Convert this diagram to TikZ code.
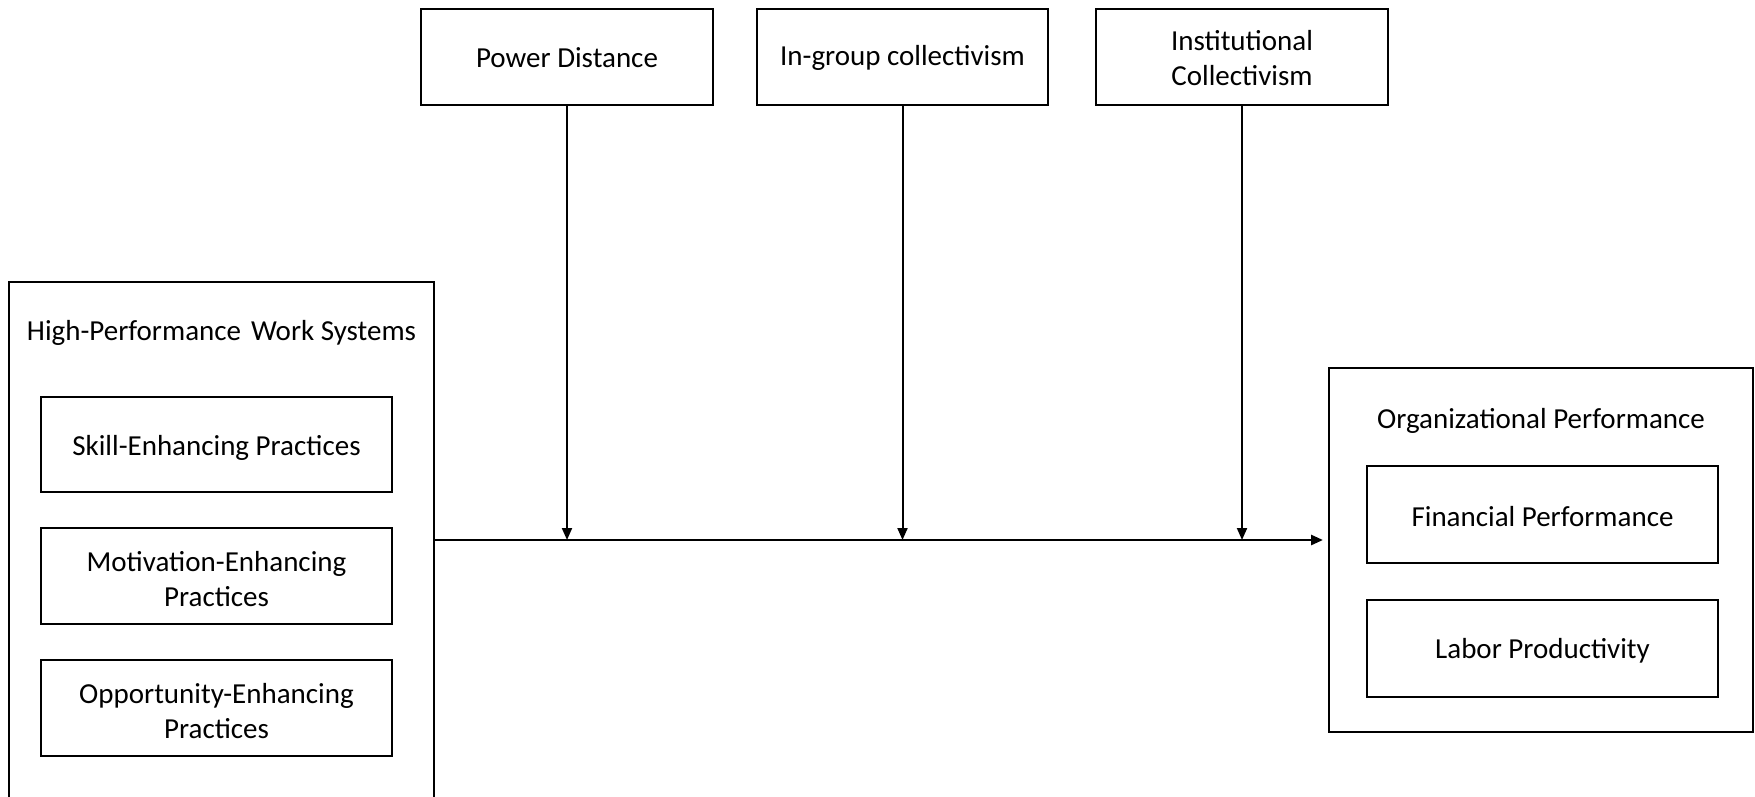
\documentclass[tikz,border=0pt]{standalone}
\usepackage{fontspec}
\setmainfont{Carlito}
\usetikzlibrary{arrows.meta}
\newcommand{\lowered}[2]{\raisebox{-#1}[\height][\depth]{#2}}
\begin{document}
\begin{tikzpicture}[x=1pt,y=-1pt,
  box/.style={draw=black,line width=1.8pt,rectangle,inner sep=0pt,align=center,font=\fontsize{29}{35}\selectfont},
  lbl/.style={inner sep=0pt,font=\fontsize{29}{35}\selectfont},
  arr/.style={line width=2pt,-{Triangle[length=12pt,width=10pt]}}]
\useasboundingbox (0,0) rectangle (1755,797);
\clip (0,0) rectangle (1755,797);
% left group
\node[box,minimum width=425pt,minimum height=523pt] (hpws) at (221.5,543.5) {};
\node[lbl] (hpwst) at (221.5,333) {High-Performance\hspace{0.12em} Work Systems};
\node[box,minimum width=351pt,minimum height=95pt] (skill) at (216.5,444.5) {\lowered{3pt}{Skill-Enhancing Practices}};
\node[box,minimum width=351pt,minimum height=96pt] (motiv) at (216.5,576) {\lowered{3pt}{\shortstack{Motivation-Enhancing\\[7pt]Practices}}};
\node[box,minimum width=351pt,minimum height=96pt] (opp) at (216.5,708) {\lowered{3pt}{\shortstack{Opportunity-Enhancing\\[7pt]Practices}}};
% moderators
\node[box,minimum width=292pt,minimum height=96pt] (power) at (567,57) {\lowered{1pt}{Power Distance}};
\node[box,minimum width=291pt,minimum height=96pt] (ingroup) at (902.5,57) {\lowered{1pt}{In-group collectivism}};
\node[box,minimum width=292pt,minimum height=96pt] (inst) at (1242,57) {\lowered{1pt}{\shortstack{Institutional\\[12pt]Collectivism}}};
% right group
\node[box,minimum width=424pt,minimum height=364pt] (org) at (1541,550) {};
\node[lbl] (orgt) at (1541,421) {Organizational Performance};
\node[box,minimum width=351pt,minimum height=97pt] (fin) at (1542.5,514.5) {\lowered{2pt}{Financial Performance}};
\node[box,minimum width=351pt,minimum height=97pt] (labor) at (1542.5,648.5) {\lowered{2pt}{Labor Productivity}};
% connectors
\coordinate (start) at (434,540);
\coordinate (end) at (1323,540);
\draw[arr,line width=2.6pt] (start) -- (end);
\draw[arr] (power.south) -- (power.south |- start);
\draw[arr] (ingroup.south) -- (ingroup.south |- start);
\draw[arr] (inst.south) -- (inst.south |- start);
\end{tikzpicture}
\end{document}
